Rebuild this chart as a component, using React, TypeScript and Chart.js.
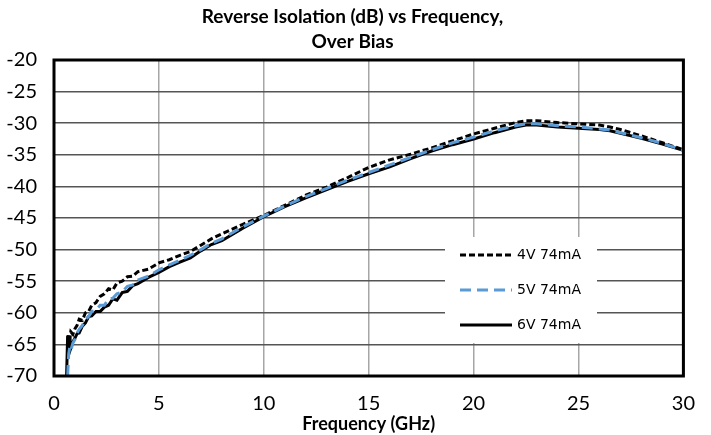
import React, { useEffect, useRef } from "react";
import { Chart, registerables } from "chart.js";

Chart.register(...registerables);

const titleLines = ["Reverse Isolation (dB) vs Frequency,", "Over Bias"];
const xTitle = "Frequency (GHz)";
const seriesLabels = ["4V 74mA", "5V 74mA", "6V 74mA"];

const freq = [
  0.6, 0.65, 0.7, 0.75, 0.8, 0.9, 1.0, 1.1, 1.2, 1.35, 1.5, 1.65, 1.8, 2.0, 2.2, 2.4, 2.6, 2.8,
  3.0, 3.25, 3.5, 3.75, 4.0, 4.5, 5, 5.5, 6, 6.5, 7, 7.5, 8, 9, 10, 11, 12, 13, 14, 15, 16, 17,
  18, 19, 20, 21, 22, 22.5, 23, 24, 25, 26, 26.5, 27, 28, 29, 30,
];

const iso4V = [
  null, -64.5, -63.5, -64.2, -63.0, -63.4, -62.5, -62.0, -61.0, -61.2, -60.0, -59.8, -58.8, -58.4,
  -57.4, -57.0, -56.2, -56.4, -55.3, -55.0, -54.3, -54.2, -53.5, -53.1, -52.1, -51.6, -50.9, -50.3,
  -49.3, -48.3, -47.5, -46.0, -44.6, -43.0, -41.4, -40.1, -38.6, -37.0, -35.8, -34.9, -33.9, -32.8,
  -31.7, -30.8, -29.9, -29.6, -29.6, -29.9, -30.1, -30.3, -30.6, -31.0, -32.0, -33.1, -34.2,
];

const iso5V = [
  null, -70, -66.5, -65.5, -66.0, -64.8, -64.2, -63.2, -62.6, -62.0, -61.0, -60.6, -59.8, -59.6,
  -58.8, -58.8, -57.8, -57.7, -57.0, -56.7, -55.8, -55.6, -54.8, -54.2, -53.2, -52.4, -51.7, -50.9,
  -50.0, -49.0, -48.3, -46.4, -44.7, -43.1, -41.6, -40.3, -39.0, -37.8, -36.6, -35.4, -34.2, -33.1,
  -32.2, -31.2, -30.4, -30.1, -30.1, -30.4, -30.6, -30.9, -31.1, -31.5, -32.3, -33.2, -34.3,
];

const iso6V = [
  -70, -63.6, -65.5, -63.8, -65.6, -64.6, -64.0, -63.3, -63.2, -62.1, -61.6, -60.6, -60.5, -59.8,
  -59.8, -59.1, -58.8, -57.8, -58.0, -56.8, -56.6, -55.7, -55.4, -54.4, -53.6, -52.7, -52.0, -51.3,
  -50.2, -49.2, -48.6, -46.6, -44.8, -43.2, -41.8, -40.5, -39.2, -38.0, -36.9, -35.6, -34.4, -33.4,
  -32.5, -31.5, -30.6, -30.3, -30.3, -30.6, -30.8, -31.0, -31.2, -31.6, -32.4, -33.3, -34.3,
];

const colors = ["#000000", "#5B9BD5", "#000000"];
const dashes = [[6, 3], [11, 6], []];

const toPoints = (ys: (number | null)[]) =>
  freq.map((x, i) => ({ x, y: ys[i] })).filter((p) => p.y !== null);

const titleDraw = {
  id: "titleDraw",
  afterDraw(chart: any) {
    const { ctx } = chart;
    ctx.save();
    ctx.fillStyle = "#000";
    ctx.font = "bold 19px Lato";
    ctx.textAlign = "center";
    ctx.textBaseline = "middle";
    const cx = chart.width / 2 - 3;
    ctx.fillText(titleLines[0], cx, 17);
    ctx.fillText(titleLines[1], cx, 42);
    ctx.restore();
  },
};

const frameAndLegend = {
  id: "frameAndLegend",
  afterDatasetsDraw(chart: any) {
    const { ctx, chartArea } = chart;
    ctx.save();
    const bx = chartArea.left + 391;
    const by = chartArea.top + 177;
    ctx.fillStyle = "#ffffff";
    ctx.fillRect(bx, by, 152, 106);
    ctx.font = "14px 'DejaVu Sans'";
    ctx.textBaseline = "middle";
    ctx.textAlign = "left";
    [0, 1, 2].forEach((i, k) => {
      const y = by + 18 + k * 35;
      ctx.beginPath();
      ctx.setLineDash(dashes[i]);
      ctx.strokeStyle = colors[i];
      ctx.lineWidth = 3;
      ctx.moveTo(bx + 15, y);
      ctx.lineTo(bx + 67, y);
      ctx.stroke();
      ctx.setLineDash([]);
      ctx.fillStyle = "#000";
      ctx.fillText(seriesLabels[i], bx + 72, y);
    });
    ctx.strokeStyle = "#000";
    ctx.lineWidth = 3;
    ctx.strokeRect(chartArea.left, chartArea.top, chartArea.right - chartArea.left, chartArea.bottom - chartArea.top);
    ctx.restore();
  },
};

export default function App() {
  const ref = useRef<HTMLCanvasElement>(null);
  useEffect(() => {
    const datasets = [0, 1, 2].map((i) => ({
      label: seriesLabels[i],
      data: toPoints([iso4V, iso5V, iso6V][i]),
      borderColor: colors[i],
      borderDash: dashes[i],
      borderWidth: 3,
      pointRadius: 0,
      fill: false,
      tension: 0,
    }));
    const ordered = [datasets[1], datasets[0], datasets[2]];
    const chart = new Chart(ref.current!, {
      type: "line",
      data: { datasets: ordered as any },
      options: {
        animation: false,
        responsive: false,
        maintainAspectRatio: false,
        layout: { padding: { left: 0, right: 25, top: 60, bottom: 0 } },
        plugins: {
          legend: { display: false },
          tooltip: { enabled: false },
          title: { display: false },
        },
        scales: {
          x: {
            type: "linear",
            min: 0,
            max: 30,
            ticks: { stepSize: 5, color: "#000", font: { family: "Lato", size: 20 }, padding: 16 },
            grid: { color: "#a6a6a6", lineWidth: 1.5, drawTicks: false },
            border: { display: false },
            title: {
              display: true,
              text: xTitle,
              color: "#000",
              font: { family: "Lato", size: 18, weight: "bold" },
              padding: { top: 0, bottom: 0 },
            },
            afterFit: (s: any) => {
              s.height = 59;
            },
          },
          y: {
            min: -70,
            max: -20,
            ticks: { stepSize: 5, color: "#000", font: { family: "Lato", size: 20 }, padding: 17 },
            grid: { color: "#555555", lineWidth: 1.5, drawTicks: false },
            border: { display: false },
            afterFit: (s: any) => {
              s.width = 54;
            },
          },
        },
      },
      plugins: [frameAndLegend, titleDraw],
    });
    return () => chart.destroy();
  }, []);
  return (
    <div style={{ position: "fixed", left: 0, top: 0, width: 711, height: 435, background: "#fff" }}>
      <canvas ref={ref} width={711} height={435} style={{ width: 711, height: 435 }} />
    </div>
  );
}
